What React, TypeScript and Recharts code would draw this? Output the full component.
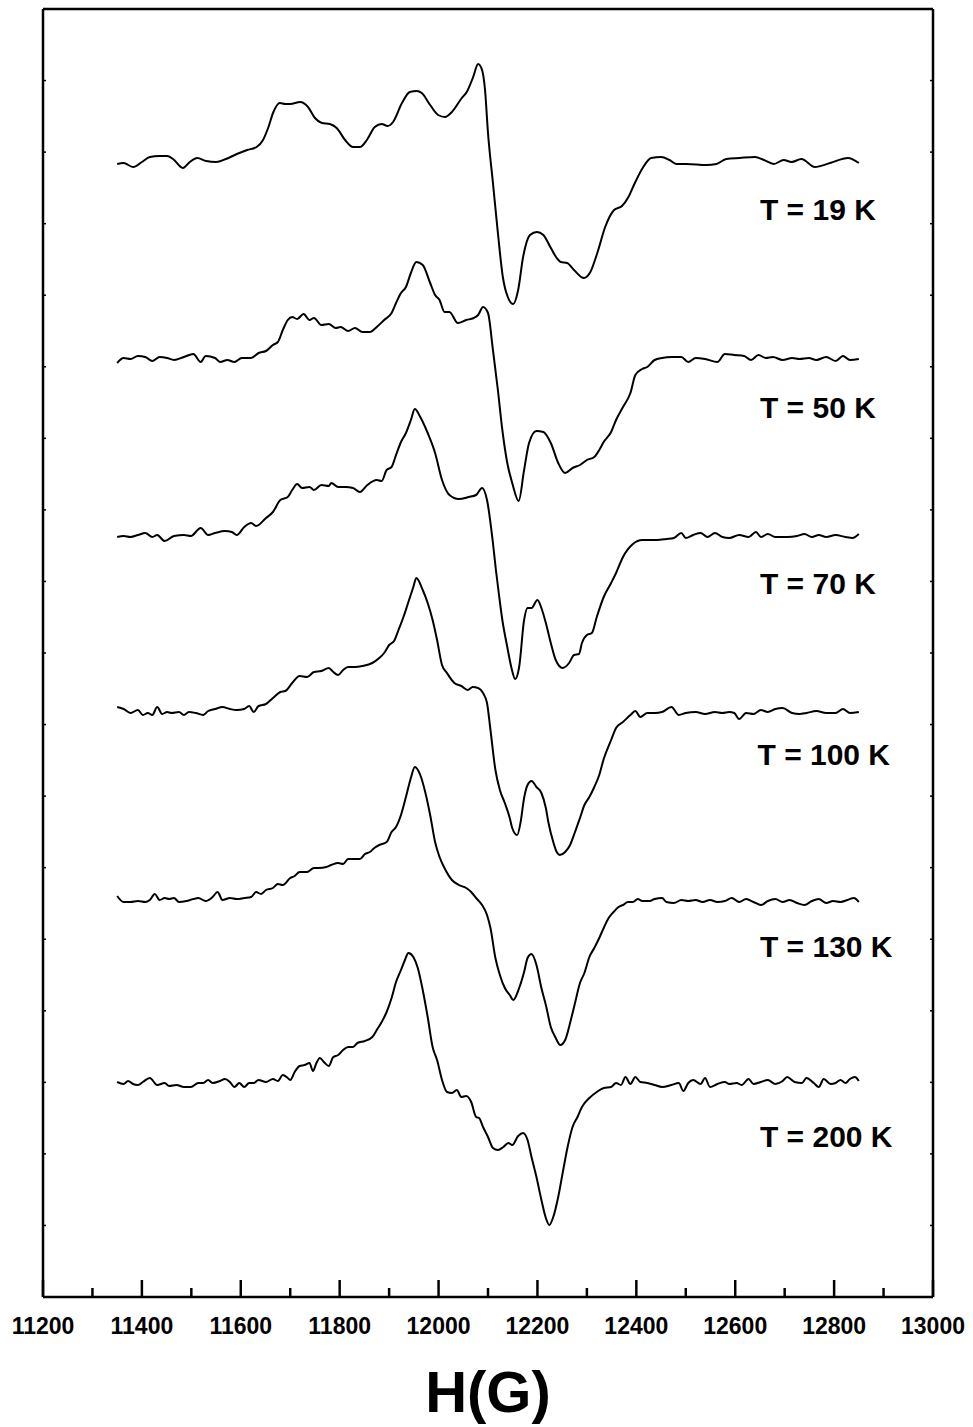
import { LineChart, Line, XAxis, YAxis, ReferenceDot } from "recharts";

/* ───────── data: EPR spectra, intensity (a.u.) vs field H (G) ───────── */

const FIELD_TICKS = [
  11200, 11300, 11400, 11500, 11600, 11700, 11800, 11900, 12000, 12100,
  12200, 12300, 12400, 12500, 12600, 12700, 12800, 12900, 13000,
];

const TEMPS = ["T = 19 K", "T = 50 K", "T = 70 K", "T = 100 K", "T = 130 K", "T = 200 K"];

// vertical offset (baseline) of every trace, a.u.
const OFFSETS = [1134, 938, 761, 586, 397, 215];

const T19: [number, number][] = [
  [11350, -1], [11363, 0], [11382, -4], [11400, 1], [11416, 6], [11435, 7], [11451, 7], [11463, 4],
  [11483, -5], [11497, 1], [11512, 5], [11530, 2], [11550, 1], [11570, 4], [11592, 9], [11613, 13],
  [11632, 16], [11645, 23], [11656, 36], [11666, 51], [11679, 60], [11690, 59], [11700, 59], [11720, 61],
  [11736, 56], [11750, 45], [11764, 40], [11780, 39], [11794, 35], [11811, 23], [11827, 16], [11841, 16],
  [11855, 23], [11871, 36], [11885, 39], [11897, 37], [11908, 41], [11926, 60], [11942, 71], [11956, 72],
  [11966, 70], [11983, 58], [11999, 48], [12013, 46], [12027, 51], [12047, 65], [12057, 71], [12070, 86],
  [12080, 99], [12088, 93], [12094, 73], [12100, 30], [12110, -20], [12120, -70], [12130, -114], [12140, -134],
  [12151, -141], [12161, -127], [12171, -94], [12185, -72], [12199, -69], [12212, -72], [12226, -84], [12239, -95],
  [12247, -99], [12260, -100], [12274, -107], [12294, -115], [12307, -109], [12321, -90], [12337, -64], [12355, -47],
  [12371, -43], [12384, -34], [12397, -20], [12414, -4], [12430, 5], [12450, 6], [12467, 3], [12481, -1],
  [12501, -1], [12542, -2], [12562, -1], [12582, 4], [12609, 5], [12640, 6], [12658, 3], [12678, -1],
  [12698, 3], [12714, 1], [12734, 4], [12761, -4], [12792, 0], [12828, 5], [12850, 0],
];

const T50: [number, number][] = [
  [11350, -4], [11363, 1], [11377, 0], [11392, 3], [11407, 2], [11421, -2], [11436, 2], [11451, 1],
  [11465, -1], [11485, 2], [11504, 5], [11519, -3], [11529, 3], [11548, 1], [11558, -3], [11573, -1],
  [11587, -3], [11602, 1], [11621, 1], [11636, 6], [11651, 8], [11665, 14], [11675, 17], [11685, 29],
  [11695, 39], [11704, 42], [11714, 40], [11727, 45], [11739, 39], [11748, 41], [11763, 34], [11778, 35],
  [11792, 31], [11802, 32], [11817, 28], [11831, 31], [11846, 27], [11861, 27], [11875, 32], [11890, 39],
  [11905, 46], [11914, 56], [11924, 66], [11934, 72], [11944, 86], [11955, 97], [11968, 94], [11983, 76],
  [11993, 64], [12002, 59], [12012, 47], [12022, 47], [12039, 36], [12056, 39], [12071, 41], [12080, 44],
  [12090, 52], [12100, 46], [12110, 9], [12120, -31], [12129, -71], [12139, -104], [12149, -124], [12162, -142],
  [12173, -111], [12183, -84], [12198, -72], [12212, -73], [12227, -84], [12242, -104], [12256, -114], [12271, -109],
  [12286, -106], [12300, -101], [12315, -98], [12325, -91], [12334, -83], [12349, -73], [12359, -61], [12373, -48],
  [12388, -34], [12398, -16], [12412, -10], [12422, -8], [12437, -1], [12452, 1], [12471, 2], [12491, 2],
  [12505, -3], [12520, 1], [12539, 0], [12564, -3], [12579, 5], [12598, 4], [12618, 3], [12632, -1],
  [12647, 4], [12662, 1], [12676, 2], [12696, -1], [12715, 1], [12730, 0], [12749, 1], [12764, -1],
  [12784, 2], [12803, -2], [12818, 3], [12832, -1], [12850, 0],
];

const T70: [number, number][] = [
  [11350, -1], [11363, 0], [11377, -1], [11392, 1], [11407, 3], [11421, -1], [11431, 1], [11446, -5],
  [11465, 0], [11485, 1], [11499, 0], [11519, 8], [11534, 1], [11548, 3], [11568, 5], [11582, 4],
  [11592, 1], [11607, 9], [11621, 13], [11631, 10], [11651, 18], [11665, 24], [11680, 36], [11695, 39],
  [11704, 46], [11714, 52], [11724, 48], [11739, 49], [11748, 46], [11763, 51], [11778, 50], [11783, 53],
  [11797, 49], [11812, 49], [11827, 48], [11841, 44], [11856, 51], [11875, 56], [11885, 55], [11895, 66],
  [11905, 69], [11914, 81], [11924, 94], [11934, 103], [11944, 116], [11952, 127], [11963, 119], [11978, 103],
  [11993, 83], [12007, 56], [12022, 41], [12041, 37], [12061, 39], [12076, 41], [12088, 48], [12098, 36],
  [12110, -7], [12116, -34], [12122, -58], [12129, -84], [12139, -111], [12147, -131], [12155, -143], [12163, -131],
  [12173, -84], [12180, -72], [12188, -72], [12200, -64], [12208, -72], [12217, -87], [12227, -107], [12237, -124],
  [12251, -132], [12264, -127], [12274, -119], [12284, -118], [12290, -107], [12300, -99], [12310, -97], [12320, -81],
  [12334, -61], [12349, -47], [12359, -37], [12373, -21], [12393, -8], [12412, -4], [12442, -4], [12461, -3],
  [12476, -2], [12491, 3], [12500, -2], [12515, 1], [12530, 3], [12544, -1], [12559, 3], [12574, -1],
  [12588, -2], [12608, 1], [12627, -1], [12642, 4], [12652, -1], [12666, 2], [12681, -1], [12705, -1],
  [12725, 0], [12740, 2], [12755, -1], [12769, 1], [12784, -1], [12803, 1], [12823, -1], [12837, -2],
  [12850, 2],
];

const T100: [number, number][] = [
  [11350, 4], [11363, 2], [11377, -2], [11392, 1], [11402, -4], [11412, -2], [11421, -4], [11431, 4],
  [11441, -3], [11451, -1], [11460, -2], [11475, -1], [11485, -4], [11495, -1], [11509, -2], [11524, -4],
  [11534, 0], [11548, 2], [11563, 4], [11578, 2], [11592, 1], [11607, 2], [11617, 5], [11626, -1],
  [11636, 5], [11651, 7], [11665, 13], [11680, 19], [11690, 20], [11704, 28], [11719, 35], [11734, 34],
  [11748, 39], [11763, 40], [11778, 43], [11787, 39], [11797, 36], [11807, 41], [11817, 44], [11831, 44],
  [11846, 45], [11866, 48], [11880, 53], [11890, 58], [11900, 66], [11910, 70], [11919, 81], [11929, 94],
  [11939, 109], [11949, 124], [11955, 133], [11968, 121], [11978, 108], [11988, 91], [11997, 71], [12007, 46],
  [12017, 38], [12032, 28], [12046, 25], [12059, 21], [12069, 24], [12080, 23], [12090, 18], [12098, 8],
  [12105, -19], [12115, -59], [12124, -79], [12134, -92], [12144, -107], [12149, -117], [12159, -124], [12166, -111],
  [12173, -87], [12180, -74], [12188, -70], [12198, -76], [12208, -82], [12217, -97], [12222, -111], [12232, -131],
  [12239, -141], [12245, -144], [12256, -141], [12266, -134], [12276, -121], [12286, -107], [12295, -94], [12305, -86],
  [12315, -76], [12325, -64], [12334, -48], [12349, -29], [12359, -17], [12373, -11], [12388, -4], [12398, 0],
  [12408, -6], [12422, -2], [12437, -2], [12452, -1], [12471, 4], [12486, -4], [12500, -2], [12520, -1],
  [12539, -3], [12559, -1], [12574, -2], [12588, -1], [12598, -2], [12608, -8], [12622, -2], [12637, -3],
  [12652, 1], [12666, -1], [12681, 2], [12696, 3], [12715, -2], [12730, -3], [12744, -2], [12764, 0],
  [12784, -2], [12803, -2], [12818, 2], [12832, -2], [12850, -1],
];

const T130: [number, number][] = [
  [11350, 4], [11363, -2], [11377, -2], [11392, -1], [11407, -2], [11416, 0], [11426, 6], [11436, 0],
  [11446, 2], [11455, 1], [11465, 2], [11475, -2], [11490, -1], [11504, 1], [11514, 2], [11529, -1],
  [11543, 3], [11553, 8], [11563, 0], [11578, 2], [11592, 1], [11607, 2], [11621, 3], [11631, 8],
  [11641, 6], [11651, 10], [11665, 12], [11675, 16], [11685, 15], [11700, 22], [11709, 24], [11719, 28],
  [11734, 28], [11748, 32], [11758, 32], [11773, 33], [11783, 35], [11797, 37], [11807, 36], [11817, 41],
  [11827, 41], [11841, 41], [11851, 46], [11861, 48], [11870, 52], [11880, 55], [11895, 58], [11905, 68],
  [11914, 73], [11924, 85], [11934, 103], [11944, 122], [11952, 133], [11963, 125], [11973, 108], [11983, 85],
  [11993, 58], [12002, 43], [12012, 32], [12027, 20], [12041, 15], [12056, 12], [12066, 8], [12076, 2],
  [12088, -5], [12098, -15], [12105, -28], [12115, -58], [12124, -75], [12134, -88], [12144, -95], [12151, -100],
  [12163, -88], [12173, -72], [12180, -58], [12188, -54], [12198, -65], [12208, -88], [12217, -105], [12227, -127],
  [12237, -138], [12246, -145], [12256, -140], [12266, -123], [12276, -103], [12286, -83], [12295, -73], [12305, -57],
  [12315, -48], [12325, -38], [12334, -28], [12344, -18], [12354, -12], [12364, -7], [12373, -5], [12383, -2],
  [12393, -2], [12403, 1], [12412, -1], [12427, -1], [12437, 1], [12452, 2], [12461, -2], [12476, -3],
  [12491, 0], [12505, -1], [12520, 0], [12534, -2], [12549, 0], [12564, -2], [12579, -1], [12593, 2],
  [12608, -2], [12622, 1], [12637, -2], [12652, -5], [12666, -1], [12681, 1], [12696, -2], [12710, 0],
  [12725, -3], [12740, -5], [12755, -1], [12769, 1], [12784, -3], [12798, -1], [12813, -2], [12827, 0],
  [12840, 2], [12850, -2],
];

const T200: [number, number][] = [
  [11350, 0], [11363, -2], [11372, 1], [11382, -2], [11392, -3], [11402, 0], [11416, 4], [11431, -3],
  [11446, -1], [11455, -4], [11470, -3], [11485, -5], [11499, -5], [11514, -1], [11524, -1], [11534, 2],
  [11543, -1], [11558, 1], [11568, 3], [11578, 0], [11587, -5], [11597, -1], [11607, -5], [11617, -1],
  [11626, -1], [11636, 2], [11651, 0], [11665, 3], [11675, 1], [11685, 7], [11695, 4], [11700, 2],
  [11709, 10], [11719, 16], [11729, 17], [11739, 19], [11746, 11], [11753, 19], [11760, 24], [11768, 20],
  [11778, 16], [11787, 25], [11797, 27], [11807, 32], [11817, 35], [11827, 35], [11836, 39], [11851, 41],
  [11866, 45], [11875, 52], [11885, 60], [11895, 70], [11905, 84], [11914, 100], [11924, 112], [11932, 122],
  [11939, 129], [11949, 125], [11958, 114], [11968, 92], [11978, 65], [11988, 35], [11997, 22], [12007, 2],
  [12017, -10], [12027, -11], [12037, -8], [12046, -15], [12056, -14], [12066, -20], [12076, -35], [12082, -36],
  [12090, -45], [12100, -55], [12110, -66], [12120, -68], [12131, -65], [12141, -61], [12149, -63], [12161, -54],
  [12171, -51], [12180, -58], [12188, -75], [12198, -95], [12208, -118], [12217, -136], [12224, -143], [12232, -135],
  [12242, -115], [12251, -91], [12261, -65], [12271, -45], [12281, -35], [12290, -25], [12305, -16], [12320, -10],
  [12334, -6], [12349, -5], [12359, -1], [12369, -3], [12378, 5], [12388, -2], [12398, 5], [12408, 0],
  [12422, -1], [12437, -3], [12452, -5], [12471, -3], [12486, -1], [12495, -9], [12505, -1], [12515, 2],
  [12530, -2], [12539, 4], [12549, -5], [12564, -2], [12579, 0], [12588, -2], [12603, -1], [12613, -3],
  [12627, 3], [12637, -2], [12652, 0], [12666, 2], [12681, -2], [12696, 1], [12705, 5], [12720, 0],
  [12735, -1], [12744, 4], [12759, -1], [12769, -5], [12779, 3], [12793, -2], [12803, -1], [12813, 2],
  [12823, -1], [12832, 3], [12842, 5], [12850, 1],
];

const SPECTRA = [T19, T50, T70, T100, T130, T200];

/* ───────── layout ───────── */

const W = 973;
const H = 1427;
const Y_MAX = 1288;
const Y_DIVS = 18;
const Y_TICKS = Array.from({ length: Y_DIVS + 1 }, (_, i) => (i * Y_MAX) / Y_DIVS);

// where the temperature captions sit (field, a.u.)
const LABEL_POS: [number, number][] = [
  [12650, 1088], [12650, 890], [12650, 714], [12645, 543], [12650, 351], [12650, 161],
];

const FONT = "'Liberation Sans', Arial, Helvetica, sans-serif";
const INK = "#000";
const AXIS_W = 2.5;

/* ───────── tick renderers (ticks point inwards) ───────── */

function BottomTick({ x, y, payload }: any) {
  const major = payload.value % 200 === 0;
  return (
    <g>
      <line x1={x} y1={y} x2={x} y2={y - (major ? 17 : 9)} stroke={INK} strokeWidth={AXIS_W} />
      {major && (
        <text x={x} y={y + 37} textAnchor="middle" fontFamily={FONT} fontWeight="bold" fontSize={23} fill={INK}>
          {payload.value}
        </text>
      )}
    </g>
  );
}

function TopTick({ x, y }: any) {
  return <line x1={x} y1={y} x2={x} y2={y + 3} stroke={INK} strokeWidth={1.5} />;
}

function LeftTick({ x, y }: any) {
  return <line x1={x} y1={y} x2={x + 3} y2={y} stroke={INK} strokeWidth={1.5} />;
}

function RightTick({ x, y }: any) {
  return <line x1={x} y1={y} x2={x - 3} y2={y} stroke={INK} strokeWidth={1.5} />;
}

export default function App() {
  const axisLine = { stroke: INK, strokeWidth: AXIS_W };
  return (
    <div style={{ position: "absolute", left: 0, top: 0, width: W, height: H, background: "#fff" }}>
      <LineChart width={W} height={H} margin={{ top: 0, right: 0, bottom: 0, left: 0 }}>
        <XAxis
          dataKey="h"
          type="number"
          domain={[11200, 13000]}
          ticks={FIELD_TICKS}
          interval={0}
          height={130}
          tickSize={0}
          tickMargin={0}
          tickLine={false}
          axisLine={axisLine}
          tick={<BottomTick />}
          allowDataOverflow
          label={{
            value: "H(G)",
            position: "insideBottom",
            offset: 15,
            style: { fontFamily: FONT, fontWeight: "bold", fontSize: 58, fill: INK },
          }}
        />
        <XAxis
          xAxisId="top"
          orientation="top"
          type="number"
          domain={[11200, 13000]}
          ticks={FIELD_TICKS}
          interval={0}
          height={9}
          tickSize={0}
          tickMargin={0}
          tickLine={false}
          axisLine={axisLine}
          tick={<TopTick />}
          allowDataOverflow
        />
        <YAxis
          type="number"
          domain={[0, Y_MAX]}
          ticks={Y_TICKS}
          interval={0}
          width={43}
          tickSize={0}
          tickMargin={0}
          tickLine={false}
          axisLine={axisLine}
          tick={<LeftTick />}
          allowDataOverflow
        />
        <YAxis
          yAxisId="right"
          orientation="right"
          type="number"
          domain={[0, Y_MAX]}
          ticks={Y_TICKS}
          interval={0}
          width={40}
          tickSize={0}
          tickMargin={0}
          tickLine={false}
          axisLine={axisLine}
          tick={<RightTick />}
          allowDataOverflow
        />

        {SPECTRA.map((s, i) => (
          <Line
            key={TEMPS[i]}
            data={s.map(([h, v]) => ({ h, v: v + OFFSETS[i] }))}
            dataKey="v"
            type="monotone"
            stroke={INK}
            strokeWidth={2}
            dot={false}
            activeDot={false}
            isAnimationActive={false}
          />
        ))}

        {TEMPS.map((t, i) => (
          <ReferenceDot
            key={t}
            x={LABEL_POS[i][0]}
            y={LABEL_POS[i][1]}
            r={0}
            shape={(p: any) => (
              <text
                x={p.cx}
                y={p.cy}
                dy="0.36em"
                textAnchor="start"
                fontFamily={FONT}
                fontWeight="bold"
                fontSize={30}
                fill={INK}
              >
                {t}
              </text>
            )}
          />
        ))}
      </LineChart>
    </div>
  );
}
